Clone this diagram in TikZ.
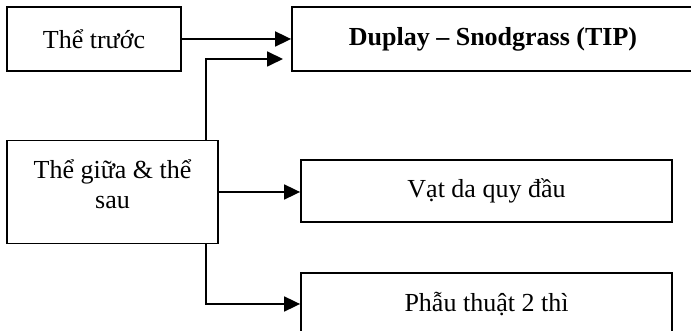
\documentclass[tikz,border=0pt]{standalone}
\usepackage{fontspec}
\setmainfont{Liberation Serif}
\usetikzlibrary{arrows.meta,calc}

\tikzset{
  riquadro/.style={draw, line width=1.8pt, rectangle, inner sep=0pt,
    font=\fontsize{26}{30}\selectfont},
  freccia/.style={line width=1.8pt, -{Triangle[length=16pt,width=15pt]}}
}

\begin{document}
\begin{tikzpicture}[x=1pt,y=1pt]
    \useasboundingbox (0,0) rectangle (691,331);
    \clip (0,0) rectangle (691,331);

    % Riquadri
    \node[riquadro, minimum width=174pt, minimum height=64pt] (truoc) at (94,292) {Thể trước};
    \node[riquadro, minimum width=402pt, minimum height=64pt] (tip) at (493,292) {\textbf{Duplay – Snodgrass (TIP)}};
    \node[riquadro, minimum width=211pt, minimum height=103pt, align=center, text depth=16pt] (giua) at (112.5,139) {Thể giữa \& thể\\sau};
    \node[riquadro, minimum width=371pt, minimum height=62pt] (vat) at (486.5,140) {Vạt da quy đầu};
    \node[riquadro, minimum width=371pt, minimum height=62pt] (hai) at (486.5,27) {Phẫu thuật 2 thì};
    \coordinate (k) at (283,272);

    % Frecce
    \draw[freccia] (truoc.east) -- (tip.west);
    \draw[freccia] ([xshift=-13pt]giua.north east) |- (k);
    \draw[freccia] (giua.east) -- (giua.east -| vat.west);
    \draw[freccia] ([xshift=-13pt]giua.south east) |- (hai.west);
\end{tikzpicture}
\end{document}
